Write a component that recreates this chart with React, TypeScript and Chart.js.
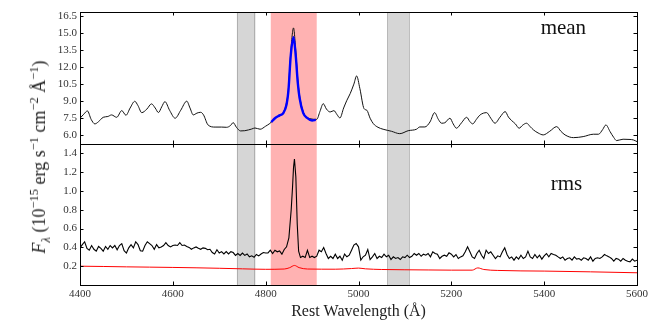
import React, { useEffect, useRef } from "react";
import { Chart, registerables } from "chart.js";

Chart.register(...registerables);

// ---------- data ----------
const xRange = [4400, 5600];
const xTicks = [4400, 4600, 4800, 5000, 5200, 5400, 5600];
const meanRange = [5.23, 16.85];
const meanTicks = [6.0, 7.5, 9.0, 10.5, 12.0, 13.5, 15.0, 16.5];
const rmsRange = [0, 1.5];
const rmsTicks = [0.2, 0.4, 0.6, 0.8, 1.0, 1.2, 1.4];

const meanWave = [4400,4408,4416,4424,4432,4440,4450,4460,4468,4479,4490,4499,4508,4518,4525,4533,4544,4554,4562,4569,4576,4583,4593,4605,4617,4630,4637,4644,4652,4660,4666,4676,4691,4705,4716,4724,4730,4737,4746,4755,4763,4770,4777,4788,4800,4809,4824,4838,4845,4849,4854,4860,4865,4869,4873,4881,4895,4910,4917,4924,4931,4939,4947,4954,4960,4968,4975,4982,4990,4996,5003,5012,5018,5025,5032,5042,5053,5071,5089,5107,5125,5132,5143,5154,5164,5172,5179,5186,5197,5204,5211,5222,5233,5240,5246,5254,5262,5276,5285,5294,5305,5316,5323,5330,5338,5346,5354,5362,5370,5377,5387,5398,5412,5427,5436,5445,5463,5484,5506,5517,5526,5533,5542,5550,5556,5570,5585,5592,5600];
const meanFlux = [7.5,7.85,8.14,7.4,7.0,7.2,7.58,7.65,7.79,7.58,8.17,7.76,8.4,8.99,8.6,7.99,8.3,8.76,8.4,8.0,8.5,8.96,8.2,7.5,8.2,9.0,8.4,7.79,7.95,8.02,7.8,6.9,6.72,6.72,6.7,6.85,7.11,6.7,6.38,6.4,6.47,6.55,6.64,6.53,6.8,7.04,7.62,8.0,8.9,10.1,13.3,15.45,13.3,11.0,9.52,8.05,7.46,7.4,8.1,8.78,8.3,8.05,8.17,7.8,7.52,8.4,9.08,9.66,10.5,11.22,10.1,8.34,8.2,7.5,7.02,6.7,6.53,6.35,6.14,6.4,6.53,6.73,6.73,7.17,7.99,7.4,7.06,7.1,7.5,7.0,6.62,7.1,7.58,7.2,7.0,7.4,7.79,7.99,7.5,7.06,7.6,8.08,7.6,7.29,7.0,6.62,6.9,7.06,6.75,6.47,6.2,6.03,6.35,6.76,6.35,6.03,5.79,5.88,6.09,6.09,6.5,6.91,6.32,5.8,5.53,5.65,5.63,5.59,5.44];

const fitWave = [4812,4820,4830,4838,4845,4849,4854,4860,4865,4869,4873,4881,4890,4900,4908];
const fitFlux = [7.15,7.5,7.75,7.95,8.7,9.9,13.0,14.63,12.9,10.7,9.3,7.95,7.5,7.3,7.35];

const rmsWave = [4400,4405,4410,4415,4420,4425,4430,4435,4440,4445,4450,4455,4460,4465,4470,4475,4480,4485,4490,4495,4500,4505,4510,4515,4520,4525,4530,4535,4540,4545,4550,4555,4560,4565,4570,4575,4580,4585,4590,4595,4600,4605,4610,4615,4620,4625,4630,4635,4640,4645,4650,4655,4660,4665,4670,4675,4680,4685,4690,4695,4700,4705,4710,4715,4720,4725,4730,4735,4740,4745,4750,4755,4760,4765,4770,4775,4780,4785,4790,4795,4800,4805,4810,4815,4820,4825,4830,4835,4840,4845,4850,4855,4858,4860,4862,4865,4868,4871,4875,4880,4885,4890,4895,4900,4905,4910,4915,4920,4925,4930,4935,4940,4945,4950,4955,4960,4965,4970,4975,4980,4985,4990,4995,5000,5005,5010,5015,5020,5025,5030,5035,5040,5045,5050,5055,5060,5065,5070,5075,5080,5085,5090,5095,5100,5105,5110,5115,5120,5125,5130,5135,5140,5145,5150,5155,5160,5165,5170,5175,5180,5185,5190,5195,5200,5205,5210,5215,5220,5225,5230,5235,5240,5245,5250,5255,5260,5265,5270,5275,5280,5285,5290,5295,5300,5305,5310,5315,5320,5325,5330,5335,5340,5345,5350,5355,5360,5365,5370,5375,5380,5385,5390,5395,5400,5405,5410,5415,5420,5425,5430,5435,5440,5445,5450,5455,5460,5465,5470,5475,5480,5485,5490,5495,5500,5505,5510,5515,5520,5525,5530,5535,5540,5545,5550,5555,5560,5565,5570,5575,5580,5585,5590,5595,5600];
const rmsFlux = [0.395,0.43,0.46,0.39,0.37,0.42,0.38,0.36,0.41,0.39,0.36,0.41,0.38,0.42,0.395,0.42,0.375,0.42,0.44,0.365,0.34,0.395,0.43,0.395,0.46,0.43,0.365,0.36,0.42,0.46,0.44,0.42,0.38,0.43,0.395,0.405,0.42,0.45,0.42,0.405,0.42,0.425,0.42,0.45,0.42,0.425,0.41,0.40,0.38,0.395,0.405,0.39,0.38,0.395,0.39,0.375,0.38,0.345,0.33,0.375,0.34,0.355,0.33,0.355,0.33,0.355,0.345,0.315,0.335,0.315,0.34,0.315,0.33,0.30,0.31,0.295,0.325,0.31,0.33,0.345,0.34,0.342,0.37,0.335,0.37,0.353,0.363,0.328,0.378,0.406,0.50,0.80,1.05,1.25,1.34,1.15,0.65,0.36,0.292,0.306,0.292,0.37,0.292,0.306,0.292,0.306,0.37,0.353,0.399,0.335,0.282,0.306,0.282,0.328,0.282,0.306,0.264,0.328,0.30,0.317,0.37,0.424,0.441,0.406,0.264,0.30,0.317,0.378,0.271,0.30,0.335,0.282,0.306,0.292,0.328,0.30,0.317,0.271,0.30,0.282,0.292,0.271,0.30,0.292,0.317,0.292,0.306,0.335,0.317,0.335,0.306,0.328,0.317,0.335,0.30,0.353,0.335,0.328,0.282,0.306,0.317,0.306,0.342,0.328,0.299,0.324,0.282,0.299,0.31,0.353,0.406,0.353,0.299,0.282,0.335,0.37,0.317,0.282,0.37,0.335,0.353,0.317,0.282,0.31,0.299,0.353,0.395,0.324,0.282,0.299,0.264,0.299,0.275,0.317,0.282,0.299,0.36,0.299,0.282,0.324,0.289,0.317,0.275,0.31,0.335,0.299,0.335,0.324,0.317,0.299,0.282,0.299,0.264,0.282,0.289,0.264,0.299,0.275,0.282,0.264,0.289,0.282,0.264,0.299,0.253,0.282,0.289,0.282,0.299,0.324,0.31,0.299,0.282,0.253,0.282,0.275,0.253,0.282,0.264,0.253,0.246,0.275,0.253,0.264];

const errWave = [4400,4450,4500,4550,4600,4650,4700,4750,4800,4840,4852,4862,4872,4890,4950,4985,5000,5015,5050,5100,5150,5200,5245,5257,5270,5300,5400,5500,5600];
const errFlux = [0.2,0.197,0.193,0.19,0.187,0.183,0.178,0.172,0.167,0.17,0.185,0.208,0.185,0.17,0.168,0.175,0.18,0.172,0.165,0.162,0.16,0.158,0.158,0.182,0.165,0.155,0.148,0.14,0.13];

const grayBands = [[4738, 4778], [5062, 5110]];
const redBands = [[4811, 4910]];
const panelLabels = ["mean", "rms"];

// ---------- layout / style ----------
const W = 664, H = 332;
const AXIS_W = 80, PAD_R = 27, PAD_T = 12, MID = 144, X_AXIS_H = 47;
const SERIF = '"Liberation Serif", "Times New Roman", serif';
const TICK_COLOR = "#333";

const pts = (w: number[], f: number[]) => w.map((x, i) => ({ x, y: f[i] }));

function makePlugins(label: string, fx: number, fy: number, yTicks: number[]) {
  const bands = {
    id: "bands",
    beforeDatasetsDraw(chart: any) {
      const { ctx, chartArea: a, scales } = chart;
      const xs = scales.x;
      ctx.save();
      ctx.beginPath();
      ctx.rect(a.left, a.top, a.right - a.left, a.bottom - a.top);
      ctx.clip();
      for (const [b0, b1] of grayBands) {
        const x0 = xs.getPixelForValue(b0), x1 = xs.getPixelForValue(b1);
        ctx.fillStyle = "rgba(128,128,128,0.32)";
        ctx.fillRect(x0, a.top, x1 - x0, a.bottom - a.top);
        ctx.strokeStyle = "rgba(0,0,0,0.18)";
        ctx.lineWidth = 1;
        ctx.beginPath();
        ctx.moveTo(Math.round(x0) + 0.5, a.top); ctx.lineTo(Math.round(x0) + 0.5, a.bottom);
        ctx.moveTo(Math.round(x1) - 0.5, a.top); ctx.lineTo(Math.round(x1) - 0.5, a.bottom);
        ctx.stroke();
      }
      for (const [b0, b1] of redBands) {
        const x0 = xs.getPixelForValue(b0), x1 = xs.getPixelForValue(b1);
        ctx.fillStyle = "rgba(255,0,0,0.3)";
        ctx.fillRect(x0, a.top, x1 - x0, a.bottom - a.top);
      }
      ctx.restore();
    },
  };
  const frame = {
    id: "frame",
    afterDraw(chart: any) {
      const { ctx, chartArea: a, scales } = chart;
      ctx.save();
      ctx.strokeStyle = "#000";
      ctx.lineWidth = 1;
      ctx.strokeRect(a.left + 0.5, a.top + 0.5, a.right - a.left, a.bottom - a.top);
      const L = 3.5;
      ctx.beginPath();
      for (const v of xTicks) {
        const px = Math.round(scales.x.getPixelForValue(v)) + 0.5;
        ctx.moveTo(px, a.top); ctx.lineTo(px, a.top + L);
        ctx.moveTo(px, a.bottom); ctx.lineTo(px, a.bottom - L);
      }
      for (const v of yTicks) {
        const py = Math.round(scales.y.getPixelForValue(v)) + 0.5;
        ctx.moveTo(a.left, py); ctx.lineTo(a.left + L, py);
        ctx.moveTo(a.right, py); ctx.lineTo(a.right - L, py);
      }
      ctx.stroke();
      ctx.fillStyle = "#111";
      ctx.font = `21px ${SERIF}`;
      ctx.textBaseline = "alphabetic";
      ctx.textAlign = "left";
      ctx.fillText(label, a.left + fx * (a.right - a.left), a.top + fy * (a.bottom - a.top));
      ctx.restore();
    },
  };
  return [bands, frame];
}

function yScale(range: number[], ticks: number[]) {
  return {
    type: "linear",
    min: range[0],
    max: range[1],
    afterBuildTicks: (s: any) => { s.ticks = ticks.map((value) => ({ value })); },
    afterFit: (s: any) => { s.width = AXIS_W; },
    grid: { display: false, drawTicks: false, tickLength: 0 },
    border: { display: false },
    ticks: {
      autoSkip: false,
      padding: 3,
      color: TICK_COLOR,
      font: { family: SERIF, size: 11 },
      callback: (v: any) => Number(v).toFixed(1),
    },
  };
}

export default function App() {
  const topRef = useRef<HTMLCanvasElement>(null);
  const botRef = useRef<HTMLCanvasElement>(null);

  useEffect(() => {
    document.body.style.margin = "0";
    const common = {
      responsive: false,
      maintainAspectRatio: false,
      animation: false as const,
      devicePixelRatio: 1,
      plugins: { legend: { display: false }, tooltip: { enabled: false }, title: { display: false } },
      events: [] as any[],
    };

    const top = new Chart(topRef.current!, {
      type: "scatter",
      data: {
        datasets: [
          { data: pts(fitWave, fitFlux), showLine: true, pointRadius: 0, borderColor: "#0000ff", borderWidth: 2.4, cubicInterpolationMode: "monotone" },
          { data: pts(meanWave, meanFlux), showLine: true, pointRadius: 0, borderColor: "#111", borderWidth: 1, cubicInterpolationMode: "monotone" },
        ] as any,
      },
      options: {
        ...common,
        layout: { padding: { top: PAD_T, right: PAD_R, left: 0, bottom: H - MID } },
        scales: {
          x: { type: "linear", min: xRange[0], max: xRange[1], display: false },
          y: yScale(meanRange, meanTicks) as any,
        },
      } as any,
      plugins: makePlugins(panelLabels[0], 0.827, 0.168, meanTicks) as any,
    });

    const bot = new Chart(botRef.current!, {
      type: "scatter",
      data: {
        datasets: [
          { data: pts(errWave, errFlux), showLine: true, pointRadius: 0, borderColor: "#ff0000", borderWidth: 1, cubicInterpolationMode: "monotone" },
          { data: pts(rmsWave, rmsFlux), showLine: true, pointRadius: 0, borderColor: "#000", borderWidth: 1.1, tension: 0 },
        ] as any,
      },
      options: {
        ...common,
        layout: { padding: { top: MID, right: PAD_R, left: 0, bottom: 0 } },
        scales: {
          x: {
            type: "linear",
            min: xRange[0],
            max: xRange[1],
            afterBuildTicks: (s: any) => { s.ticks = xTicks.map((value) => ({ value })); },
            afterFit: (s: any) => { s.height = X_AXIS_H; },
            grid: { display: false, drawTicks: false, tickLength: 0 },
            border: { display: false },
            ticks: {
              autoSkip: false,
              maxRotation: 0,
              padding: 3,
              color: TICK_COLOR,
              font: { family: SERIF, size: 11 },
              callback: (v: any) => String(v),
            },
            title: {
              display: true,
              text: "Rest Wavelength (Å)",
              color: "#222",
              font: { family: SERIF, size: 16 },
              padding: { top: 0, bottom: 11 },
            },
          },
          y: yScale(rmsRange, rmsTicks) as any,
        },
      } as any,
      plugins: makePlugins(panelLabels[1], 0.845, 0.325, rmsTicks) as any,
    });

    return () => { top.destroy(); bot.destroy(); };
  }, []);

  const cs: React.CSSProperties = { position: "absolute", left: 0, top: 0, width: W, height: H };
  const sup: React.CSSProperties = { fontSize: 12.5 };
  return (
    <div style={{ position: "absolute", left: 0, top: 0, width: W, height: H, overflow: "hidden", background: "#fff" }}>
      <canvas ref={topRef} width={W} height={H} style={cs} />
      <canvas ref={botRef} width={W} height={H} style={cs} />
      <div
        style={{
          position: "absolute",
          left: 40,
          top: 157,
          transform: "translate(-50%, -50%) rotate(-90deg)",
          whiteSpace: "nowrap",
          fontFamily: SERIF,
          fontSize: 18,
          color: "#222",
          lineHeight: 1,
        }}
      >
        <i>F</i><sub style={sup}><i>λ</i></sub> (10<sup style={sup}>−15</sup> erg s<sup style={sup}>−1</sup> cm<sup style={sup}>−2</sup> Å<sup style={sup}>−1</sup>)
      </div>
    </div>
  );
}
